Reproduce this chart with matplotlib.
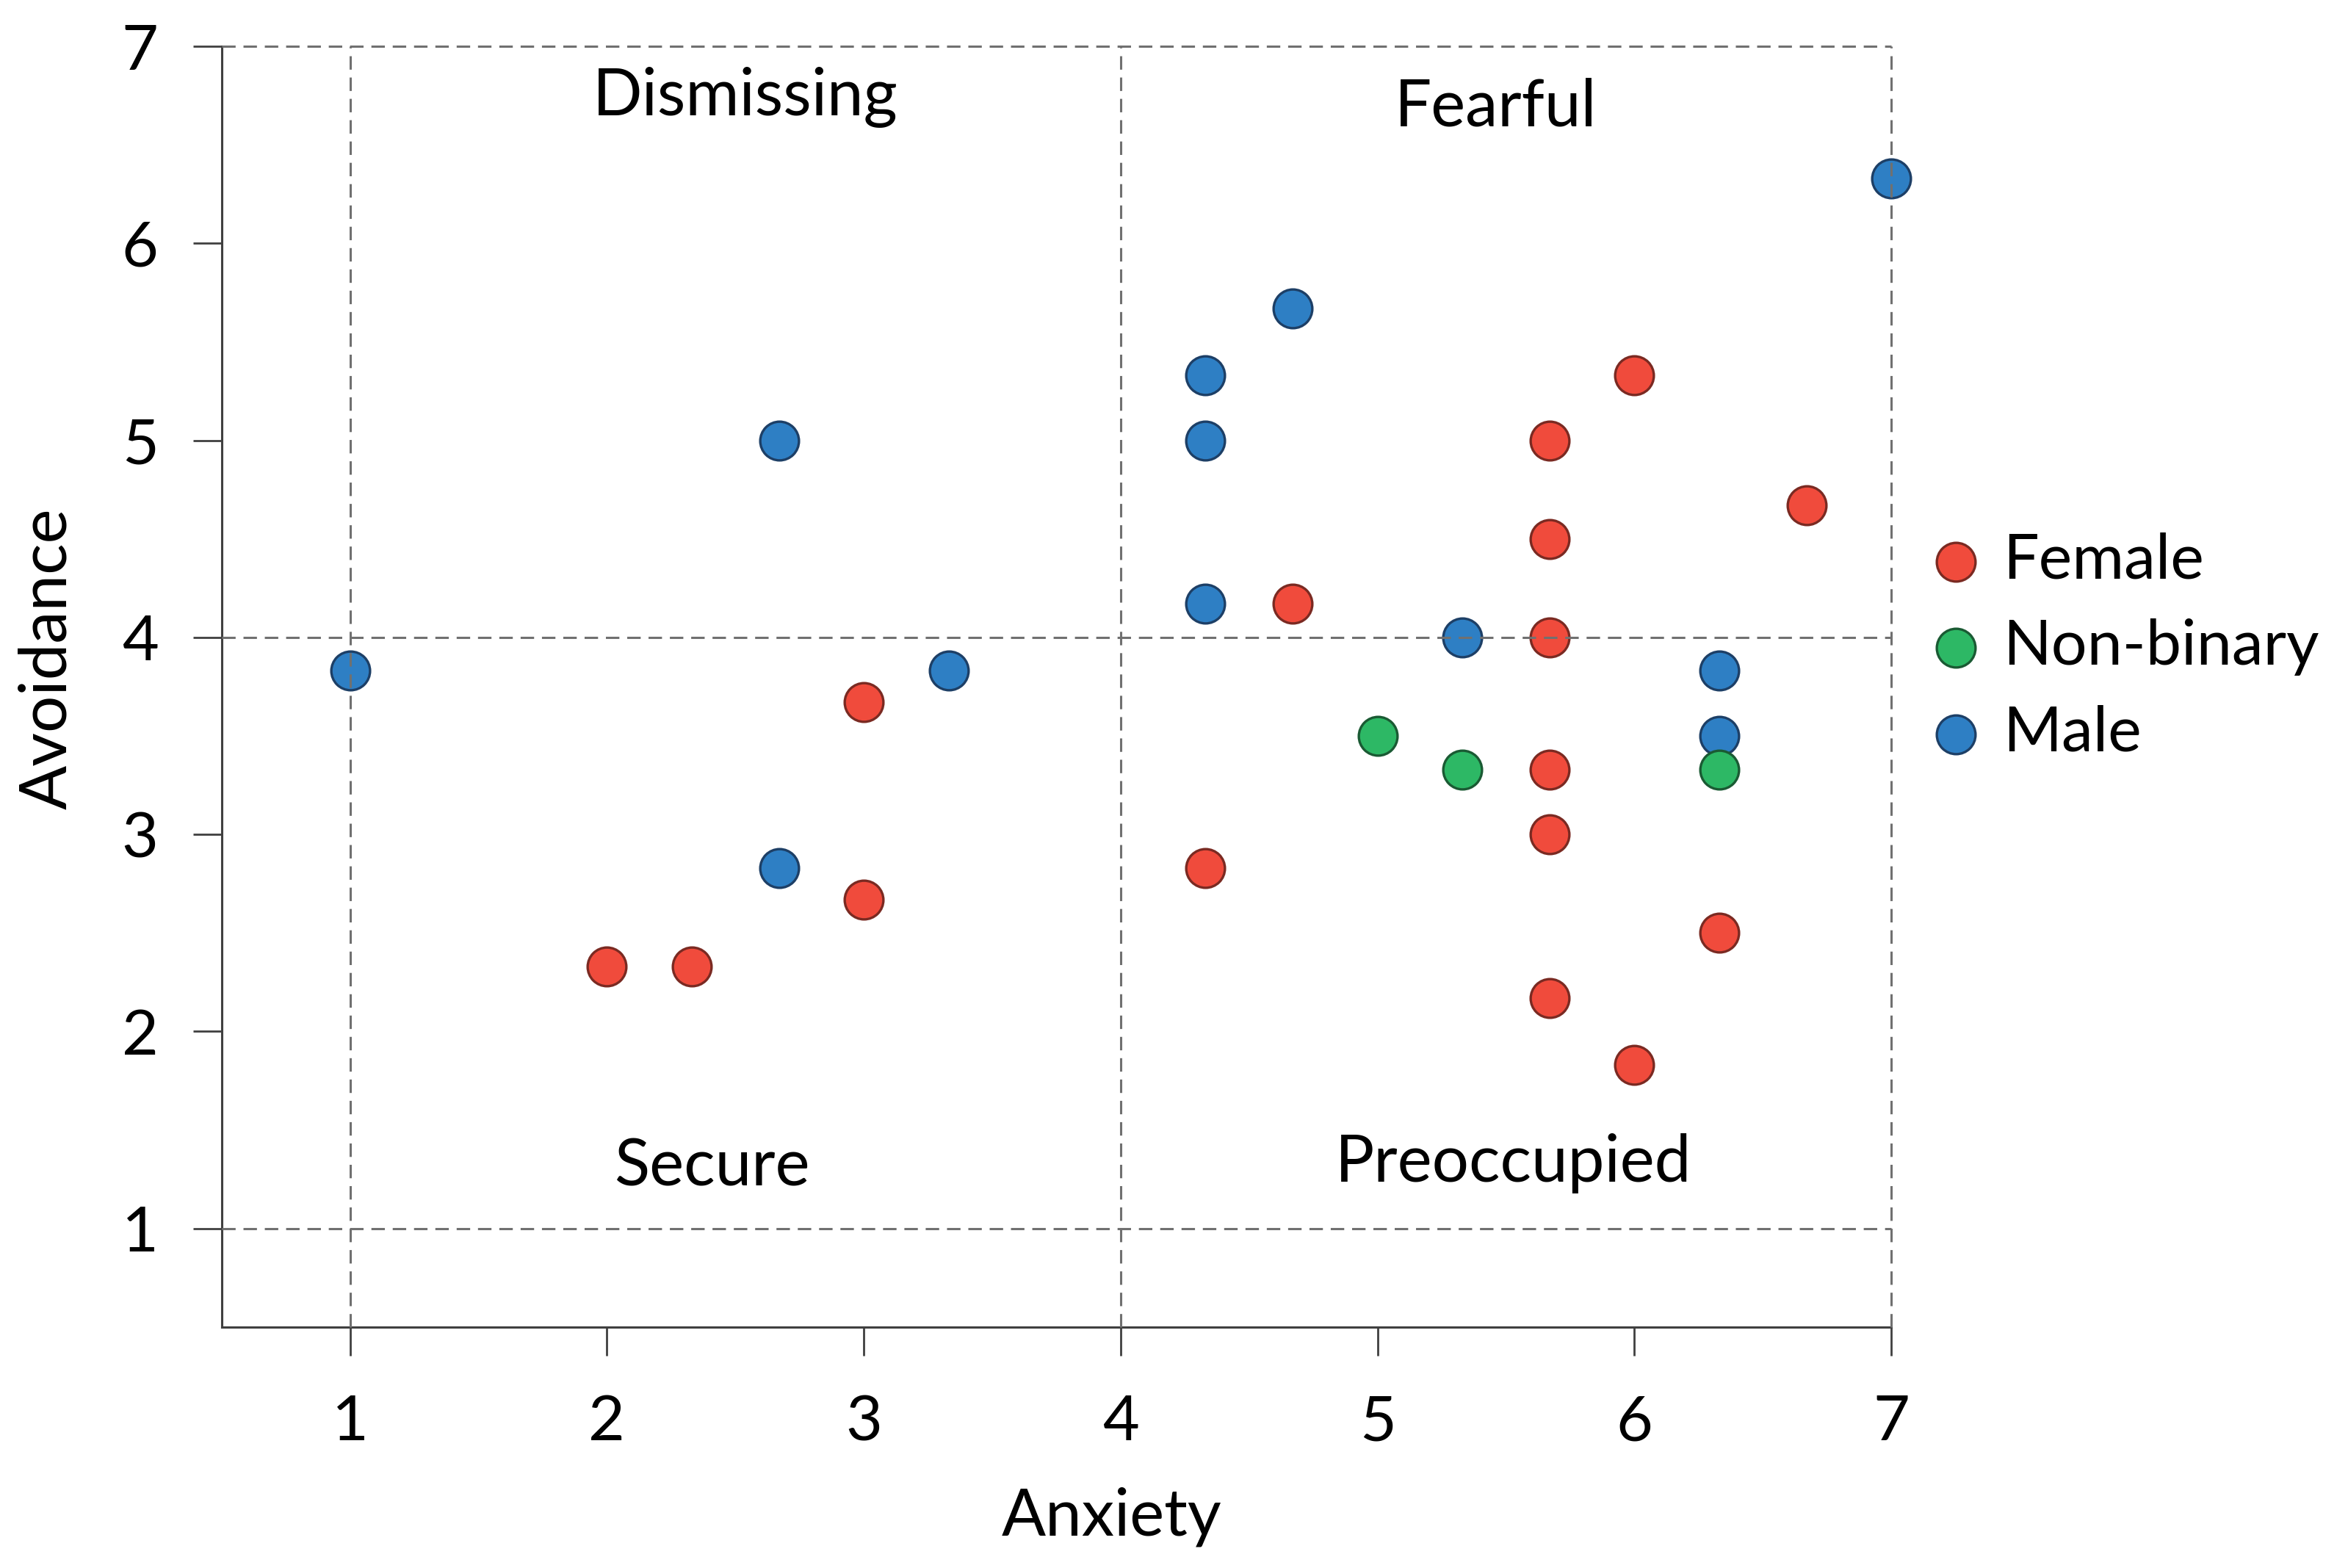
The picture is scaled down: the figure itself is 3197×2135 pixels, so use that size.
import matplotlib
matplotlib.use("Agg")
import matplotlib.pyplot as plt

plt.rcParams['font.family'] = ['Lato', 'DejaVu Sans']

# Data
female_x = [2.0, 2.33, 3.0, 3.0, 4.33, 4.67, 5.67, 5.67, 5.67, 5.67, 5.67, 5.67, 6.0, 6.0, 6.33, 6.67]
female_y = [2.33, 2.33, 3.67, 2.67, 2.83, 4.17, 5.0, 4.5, 4.0, 3.33, 3.0, 2.17, 5.33, 1.83, 2.5, 4.67]
male_x = [1.0, 2.67, 2.67, 3.33, 4.33, 4.33, 4.67, 4.33, 5.33, 6.33, 6.33, 7.0]
male_y = [3.83, 5.0, 2.83, 3.83, 5.33, 5.0, 5.67, 4.17, 4.0, 3.83, 3.5, 6.33]
nonbin_x = [5.0, 5.33, 6.33]
nonbin_y = [3.5, 3.33, 3.33]

quad_labels = ["Dismissing", "Fearful", "Secure", "Preoccupied"]
quad_x = [2.54, 5.46, 2.41, 5.53]
quad_y = [6.74, 6.69, 1.31, 1.33]

ticks = [1, 2, 3, 4, 5, 6, 7]
ref_lines = [1, 4, 7]

fig = plt.figure(figsize=(15.985, 10.675), dpi=200)
ax = fig.add_axes([0.0944, 0.1538, 0.8055 - 0.0944, 0.9704 - 0.1538])

ms = 360
ax.scatter(female_x, female_y, s=ms, c='#F04B3C', edgecolors='#7a2a22', linewidths=1.2,
           label='Female', zorder=3, clip_on=False)
ax.scatter(male_x, male_y, s=ms, c='#2E7FC4', edgecolors='#1d3f66', linewidths=1.2,
           label='Male', zorder=3, clip_on=False)
ax.scatter(nonbin_x, nonbin_y, s=ms, c='#2DB865', edgecolors='#1a5a33', linewidths=1.2,
           label='Non-binary', zorder=4, clip_on=False)

for v in ref_lines:
    ax.axvline(v, color='#707070', lw=1.1, ls=(0, (6, 3.5)), zorder=5, clip_on=False)
    ax.axhline(v, color='#707070', lw=1.1, ls=(0, (6, 3.5)), zorder=5, clip_on=False)

ax.set_xlim(0.5, 7)
ax.set_ylim(0.5, 7)
ax.set_xticks(ticks)
ax.set_yticks(ticks)
ax.tick_params(axis='both', length=14, width=1.0, color='#404040', labelsize=31, pad=17)
ax.tick_params(axis='x', pad=19)
for s in ['top', 'right']:
    ax.spines[s].set_visible(False)
for s in ['left', 'bottom']:
    ax.spines[s].set_color('#404040')
    ax.spines[s].set_linewidth(1.1)

ax.set_xlabel("Anxiety", fontsize=32)
ax.set_ylabel("Avoidance", fontsize=32)
ax.xaxis.set_label_coords(0.533, -0.125)
ax.yaxis.set_label_coords(-0.086, 0.522)

for t, x, y in zip(quad_labels, quad_x, quad_y):
    ax.text(x, y, t, fontsize=32, ha='center', va='center', zorder=6)

handles, labels = ax.get_legend_handles_labels()
order = [0, 2, 1]
fig.legend([handles[i] for i in order], [labels[i] for i in order],
           loc='center left', bbox_to_anchor=(0.8195, 0.5874), frameon=False,
           fontsize=31, handlelength=1.0, handletextpad=0.24, labelspacing=0.46,
           borderpad=0, borderaxespad=0, markerscale=1.0, scatterpoints=1)

fig.savefig("out.png", dpi=200, facecolor='white')
